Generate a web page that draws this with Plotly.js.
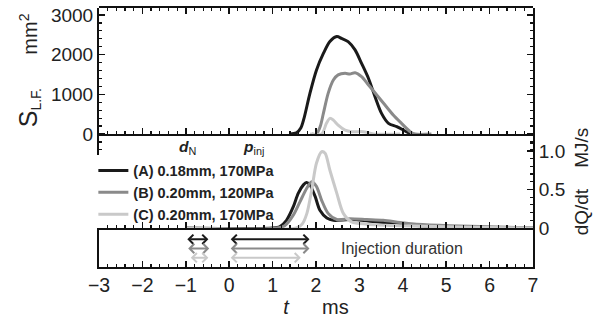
<!DOCTYPE html>
<html>
<head>
<meta charset="utf-8">
<script src="https://cdn.plot.ly/plotly-3.0.1.min.js"></script>
<style>html,body{margin:0;padding:0;background:#fff;}#chart{width:603px;height:320px;}</style>
</head>
<body>
<div id="chart"></div>
<script>
// ---- data ----
const seriesNames = ['(A) 0.18mm, 170MPa', '(B) 0.20mm, 120MPa', '(C) 0.20mm, 170MPa'];
const seriesColors = ['#1a1a1a', '#8a8a8a', '#c9c9c9'];

// Luminous flame area S_L.F. (mm^2) vs t (ms)
const tS_A = [1.40, 1.55, 1.65, 1.72, 1.86, 2.01, 2.17, 2.32, 2.48, 2.59, 2.74, 2.90, 3.05, 3.21, 3.36, 3.51, 3.67, 3.86, 4.01, 4.17];
const S_A  = [0, 30, 150, 380, 1025, 1610, 2030, 2330, 2455, 2410, 2330, 2120, 1780, 1400, 940, 520, 270, 185, 100, 0];
const tS_B = [1.90, 2.01, 2.10, 2.17, 2.28, 2.40, 2.51, 2.67, 2.78, 2.90, 3.05, 3.21, 3.40, 3.59, 3.78, 3.97, 4.17, 4.28, 4.66];
const S_B  = [0, 0, 200, 520, 1025, 1360, 1490, 1530, 1510, 1545, 1445, 1235, 985, 730, 480, 270, 60, 0, 0];
const tS_C = [1.86, 2.13, 2.24, 2.32, 2.40, 2.51, 2.67, 2.82, 3.09, 3.32, 3.94];
const S_C  = [0, 0, 270, 395, 350, 225, 100, 60, 60, 0, 0];

// Heat release rate dQ/dt (MJ/s) vs t (ms)
const tQ_A = [-1.0, 1.00, 1.17, 1.32, 1.48, 1.59, 1.71, 1.78, 1.86, 1.98, 2.09, 2.25, 2.40, 2.78, 3.17, 3.55, 3.94, 4.70, 5.47, 7.0];
const Q_A  = [0, 0, 0.02, 0.10, 0.28, 0.45, 0.56, 0.59, 0.56, 0.41, 0.23, 0.13, 0.10, 0.11, 0.095, 0.07, 0.05, 0.02, 0.01, 0];
const tQ_B = [-1.0, 1.10, 1.28, 1.48, 1.63, 1.79, 1.90, 2.01, 2.13, 2.28, 2.48, 2.78, 3.17, 3.55, 3.94, 4.32, 5.09, 7.0];
const Q_B  = [0, 0, 0.03, 0.17, 0.34, 0.52, 0.60, 0.54, 0.36, 0.19, 0.11, 0.12, 0.11, 0.10, 0.07, 0.05, 0.03, 0];
const tQ_C = [-1.0, 1.55, 1.68, 1.79, 1.90, 2.01, 2.13, 2.21, 2.32, 2.48, 2.63, 2.82, 3.17, 3.94, 5.47, 7.0];
const Q_C  = [0, 0, 0.05, 0.19, 0.49, 0.84, 0.99, 0.97, 0.75, 0.45, 0.19, 0.08, 0.05, 0.03, 0.01, 0];

// Arrow spans (ms): nozzle-diameter marker and injection duration
const dN_start = [-1.00, -0.98, -0.92];
const dN_end   = [-0.48, -0.46, -0.48];
const inj_start = [0.0, 0.0, 0.0];
const inj_end   = [1.85, 1.85, 1.65];

const xTickVals = [-3, -2, -1, 0, 1, 2, 3, 4, 5, 6, 7];
const sTickVals = [0, 1000, 2000, 3000];
const qTickVals = [0, 0.5, 1.0];
const qTickText = ['0', '0.5', '1.0'];

// ---- chart ----
const FONT = 'Liberation Sans, Arial, Helvetica, sans-serif';
const sT = [tS_A, tS_B, tS_C], sV = [S_A, S_B, S_C];
const qT = [tQ_A, tQ_B, tQ_C], qV = [Q_A, Q_B, Q_C];
const traces = [];
// helper (empty) trace so the frame subplot x3/y4 exists
traces.push({x: [null], y: [null], xaxis: 'x3', yaxis: 'y4', type: 'scatter', mode: 'lines',
  showlegend: false, hoverinfo: 'skip'});
for (let i = 0; i < 3; i++) {
  traces.push({
    x: sT[i], y: sV[i], xaxis: 'x3', yaxis: 'y', type: 'scatter', mode: 'lines',
    name: '<b>' + seriesNames[i] + '</b>', legendgroup: 'g' + i, showlegend: true,
    line: {color: seriesColors[i], width: 3, shape: 'spline', smoothing: 0.8},
    hoverinfo: 'skip'
  });
}
for (let i = 0; i < 3; i++) {
  traces.push({
    x: qT[i], y: qV[i], xaxis: 'x2', yaxis: 'y2', type: 'scatter', mode: 'lines',
    name: seriesNames[i], legendgroup: 'g' + i, showlegend: false,
    line: {color: seriesColors[i], width: 3, shape: 'spline', smoothing: 0.8},
    hoverinfo: 'skip'
  });
}
traces.push({x: [null], y: [null], xaxis: 'x', yaxis: 'y3', type: 'scatter', mode: 'lines',
  showlegend: false, hoverinfo: 'skip'});

const annotations = [];
for (let i = 0; i < 3; i++) {
  annotations.push({
    xref: 'x', yref: 'y3', axref: 'x', ayref: 'y3',
    x: dN_end[i], y: i, ax: dN_start[i], ay: i, text: '',
    showarrow: true, arrowhead: 4, startarrowhead: 4, arrowside: 'end+start',
    arrowsize: 0.9, startarrowsize: 0.9, arrowwidth: 2, arrowcolor: seriesColors[i],
    standoff: 0, startstandoff: 0
  });
  annotations.push({
    xref: 'x', yref: 'y3', axref: 'x', ayref: 'y3',
    x: inj_end[i], y: i, ax: inj_start[i], ay: i, text: '',
    showarrow: true, arrowhead: 4, startarrowhead: 4, arrowside: 'end+start',
    arrowsize: 0.9, startarrowsize: 0.9, arrowwidth: 2, arrowcolor: seriesColors[i],
    standoff: 0, startstandoff: 0
  });
}
annotations.push({xref: 'x', yref: 'y3', x: 3.98, y: 1.05, text: 'Injection duration',
  showarrow: false, font: {family: FONT, size: 16, color: '#333'}});
annotations.push({xref: 'x', yref: 'paper', x: -0.95, y: 0.4595, text: '<b><i>d</i></b><sub>N</sub>',
  showarrow: false, font: {family: FONT, size: 15.5, color: '#222'}});
annotations.push({xref: 'x', yref: 'paper', x: 0.55, y: 0.4595, text: '<b><i>p</i></b><sub>inj</sub>',
  showarrow: false, font: {family: FONT, size: 15.5, color: '#222'}});

const xCommon = {
  range: [-3, 7], tickvals: xTickVals, ticks: 'inside', ticklen: 6, tickwidth: 1.5, tickcolor: '#111',
  minor: {dtick: 0.2, tick0: 0, ticks: 'inside', ticklen: 3, tickwidth: 1.2, tickcolor: '#111'},
  showline: true, linewidth: 2, linecolor: '#111', zeroline: false, showgrid: false, fixedrange: true,
  domain: [0, 1]
};
const hiddenY = {showline: false, ticks: '', showticklabels: false, zeroline: false, showgrid: false, fixedrange: true};

const layout = {
  width: 603, height: 320,
  margin: {l: 99, r: 70, t: 8, b: 53, pad: 0},
  paper_bgcolor: '#fff', plot_bgcolor: 'rgba(0,0,0,0)',
  font: {family: FONT, color: '#222'},
  showlegend: true,
  legend: {x: -0.013, y: 0.434, xanchor: 'left', yanchor: 'top', bgcolor: 'rgba(0,0,0,0)',
    font: {family: FONT, size: 14.5, color: '#222'}, tracegroupgap: 0},
  // bottom axis with labels (bottom of the injection box)
  xaxis: Object.assign({}, xCommon, {
    anchor: 'y3', side: 'bottom', showticklabels: true,
    tickfont: {family: FONT, size: 19.5, color: '#222'},
    title: {text: '<i>t</i>&nbsp;&nbsp;&nbsp;&nbsp;&nbsp;&nbsp;ms', font: {family: FONT, size: 20, color: '#222'}, standoff: 4}
  }),
  // zero line of dQ/dt panel
  xaxis2: Object.assign({}, xCommon, {anchor: 'y2', side: 'bottom', showticklabels: false, matches: 'x'}),
  // zero line of S panel + top frame (mirrored)
  xaxis3: Object.assign({}, xCommon, {anchor: 'y4', side: 'bottom', showticklabels: false, mirror: 'ticks', matches: 'x'}),
  yaxis: {
    domain: [0.4324, 1], range: [-529, 3176], anchor: 'x3',
    tickvals: sTickVals, ticks: 'inside', ticklen: 6, tickwidth: 1.5, tickcolor: '#111',
    minor: {dtick: 200, tick0: 0, ticks: 'inside', ticklen: 3, tickwidth: 1.2, tickcolor: '#111'},
    mirror: 'ticks', showline: true, linewidth: 2, linecolor: '#111', zeroline: false, showgrid: false,
    tickfont: {family: FONT, size: 19, color: '#222'}, fixedrange: true,
    title: {text: '&nbsp;&nbsp;&nbsp;&nbsp;<span style="font-size:25px">S</span><sub>L.F.</sub>&nbsp;&nbsp;&nbsp;&nbsp;&nbsp;&nbsp;mm<sup>2</sup>',
      font: {family: FONT, size: 20, color: '#222'}, standoff: 8}
  },
  yaxis2: {
    domain: [0.1506, 0.5097], range: [0, 1.208], anchor: 'x2', side: 'right',
    tickvals: qTickVals, ticktext: qTickText, ticks: 'inside', ticklen: 6, tickwidth: 1.5, tickcolor: '#111',
    minor: {dtick: 0.1, tick0: 0, ticks: 'inside', ticklen: 3, tickwidth: 1.2, tickcolor: '#111'},
    showline: true, linewidth: 2, linecolor: '#111', zeroline: false, showgrid: false,
    tickfont: {family: FONT, size: 19, color: '#222'}, fixedrange: true,
    title: {text: 'dQ/dt&nbsp;&nbsp;&nbsp;&nbsp;MJ/s', font: {family: FONT, size: 19, color: '#222'}, standoff: 10}
  },
  yaxis3: {
    domain: [0, 0.1506], range: [3.01, -1.23], anchor: 'x',
    showline: true, mirror: true, linewidth: 2, linecolor: '#111', ticks: '', showticklabels: false,
    zeroline: false, showgrid: false, fixedrange: true
  },
  yaxis4: Object.assign({}, hiddenY, {domain: [0.5135, 1], range: [0, 1], anchor: 'x3'}),
  annotations: annotations
};

Plotly.newPlot('chart', traces, layout, {displayModeBar: false, staticPlot: true});
</script>
</body>
</html>
